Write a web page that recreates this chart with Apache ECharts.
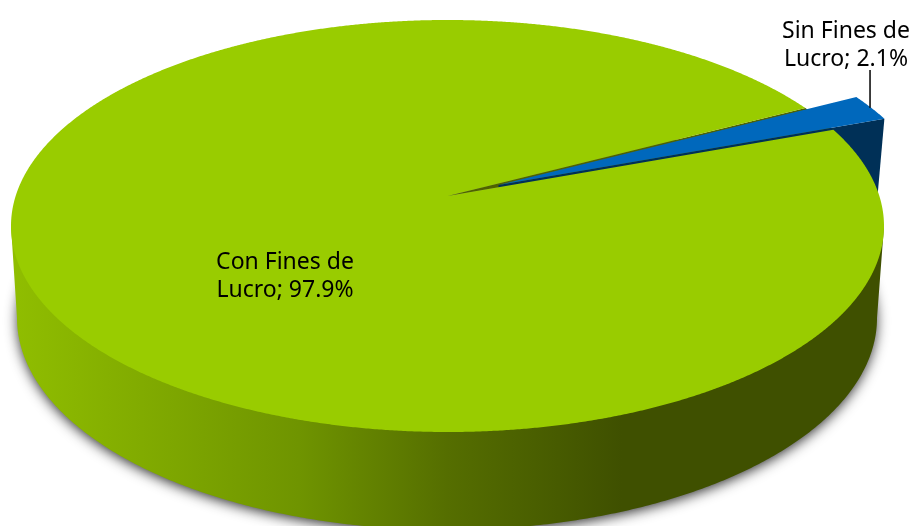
<!DOCTYPE html>
<html>
<head>
<meta charset="utf-8">
<style>html,body{margin:0;padding:0;background:#fff}#c{width:911px;height:526px}</style>
<script src="https://cdn.jsdelivr.net/npm/echarts@6/dist/echarts.min.js"></script>
</head>
<body>
<div id="c"></div>
<script>
var categories = ['Con Fines de Lucro', 'Sin Fines de Lucro'];
var shares = [97.9, 2.1];
var labelLines = [['Con Fines de', 'Lucro'], ['Sin Fines de', 'Lucro']];

// view geometry of the tilted disc
var TOP = {cx: 447.5, cy: 226, rx: 436.5, ry: 206};
var BOTTOM = {cx: 447, cy: 318, rx: 430, ry: 212};
var APEX_T = 0.1456;            // perspective shift of the disc centre
var START_DEG = -20.2;          // angle where the first slice begins
var EXPLODE = [51, -11];
var DEPTH = [-8, 90];
var LABEL_POS = [[285, 276], [846, 45]];
var FONT = '23px "Noto Sans"';

var total = shares.reduce(function (a, b) { return a + b; }, 0);

// angle on the true circle -> point on the foreshortened, perspective rim
function project(deg, r) {
  var a = deg * Math.PI / 180, u = r * Math.cos(a), v = r * Math.sin(a);
  var t = APEX_T, w = 1 - t * v;
  var X = u * Math.sqrt(1 - t * t) / w, Y = (v - t) / w;
  return [TOP.cx + TOP.rx * X, TOP.cy + TOP.ry * Y];
}
function arc(d0, d1, off) {
  var pts = [], n = Math.max(2, Math.ceil(Math.abs(d1 - d0) * 4));
  for (var i = 0; i <= n; i++) {
    var p = project(d0 + (d1 - d0) * i / n, 1);
    pts.push([p[0] + off[0], p[1] + off[1]]);
  }
  return pts;
}
function ellipseArc(e, d0, d1) {
  var pts = [];
  for (var d = d0; d <= d1; d += 0.5) {
    var a = d * Math.PI / 180;
    pts.push([e.cx + e.rx * Math.cos(a), e.cy + e.ry * Math.sin(a)]);
  }
  return pts;
}

function renderItem(params, api) {
  var idx = params.dataIndex;
  var val = api.value(0);
  var before = 0;
  for (var i = 0; i < idx; i++) before += shares[i];
  var d0 = START_DEG + before / total * 360;
  var d1 = d0 + val / total * 360;
  var kids = [];
  var label = labelLines[idx][0] + '\n' + labelLines[idx][1] + '; ' + val.toFixed(1) + '%';
  var centre = project(0, 0);

  if (idx === 0) {
    // ground shadow and outer wall
    kids.push({type: 'polygon', z2: 1, shape: {points: ellipseArc({cx: BOTTOM.cx, cy: BOTTOM.cy, rx: BOTTOM.rx - 1, ry: BOTTOM.ry - 1}, 0, 360)},
      style: {fill: '#555', shadowBlur: 13, shadowColor: 'rgba(0,0,0,0.85)', shadowOffsetX: 0, shadowOffsetY: 3}});
    var wall = ellipseArc(BOTTOM, 0, 180).concat(ellipseArc(TOP, 180, 180), ellipseArc(TOP, 0, 0).reverse());
    kids.push({type: 'polygon', z2: 2, shape: {points: wall},
      style: {fill: {type: 'linear', x: 0, y: 0, x2: 1, y2: 0, colorStops: [
        {offset: 0, color: '#90BE00'}, {offset: 0.33, color: '#6F9400'},
        {offset: 0.5, color: '#556E00'}, {offset: 0.7, color: '#3F5000'}, {offset: 1, color: '#3F5000'}]}}});
    // inner wall seen through the notch
    var notch = [centre].concat(arc(d1 - 360, START_DEG, [0, 0]));
    kids.push({type: 'polygon', z2: 3, shape: {points: notch}, style: {fill: '#4F6200'}});
    kids.push({type: 'polygon', z2: 5, shape: {points: [centre].concat(arc(d0, d1, [0, 0]))}, style: {fill: '#99CC00'}});
    kids.push({type: 'text', z2: 9, style: {text: label, x: LABEL_POS[0][0], y: LABEL_POS[0][1], align: 'center', verticalAlign: 'middle', font: FONT, lineHeight: 28, fill: '#000'}});
  } else {
    var tip = [centre[0] + EXPLODE[0], centre[1] + EXPLODE[1]];
    var rim = arc(d0, d1, EXPLODE);
    var a = rim[0], b = rim[rim.length - 1];
    var lower = a[1] < b[1] ? b : a;
    kids.push({type: 'polygon', z2: 4, shape: {points: [tip, lower, [lower[0] + DEPTH[0], lower[1] + DEPTH[1]], [tip[0], tip[1] + DEPTH[1]]]},
      style: {fill: '#003057'}});
    kids.push({type: 'polygon', z2: 6, shape: {points: [tip].concat(rim)}, style: {fill: '#0068BC'}});
    var mid = project((d0 + d1) / 2, 1);
    var mx = mid[0] + EXPLODE[0] - 1, my = mid[1] + EXPLODE[1];
    kids.push({type: 'line', z2: 7, shape: {x1: mx, y1: my, x2: mx, y2: LABEL_POS[1][1] + 25}, style: {stroke: '#000', lineWidth: 1.5}});
    kids.push({type: 'text', z2: 9, style: {text: label, x: LABEL_POS[1][0], y: LABEL_POS[1][1], align: 'center', verticalAlign: 'middle', font: FONT, lineHeight: 28, fill: '#000'}});
  }
  return {type: 'group', children: kids};
}

var chart = echarts.init(document.getElementById('c'), null, {renderer: 'canvas'});
chart.setOption({
  animation: false,
  backgroundColor: '#fff',
  series: [{
    type: 'custom',
    coordinateSystem: 'none',
    renderItem: renderItem,
    encode: {value: 0, itemName: 1},
    data: shares.map(function (v, i) { return {name: categories[i], value: [v]}; })
  }]
});
</script>
</body>
</html>
